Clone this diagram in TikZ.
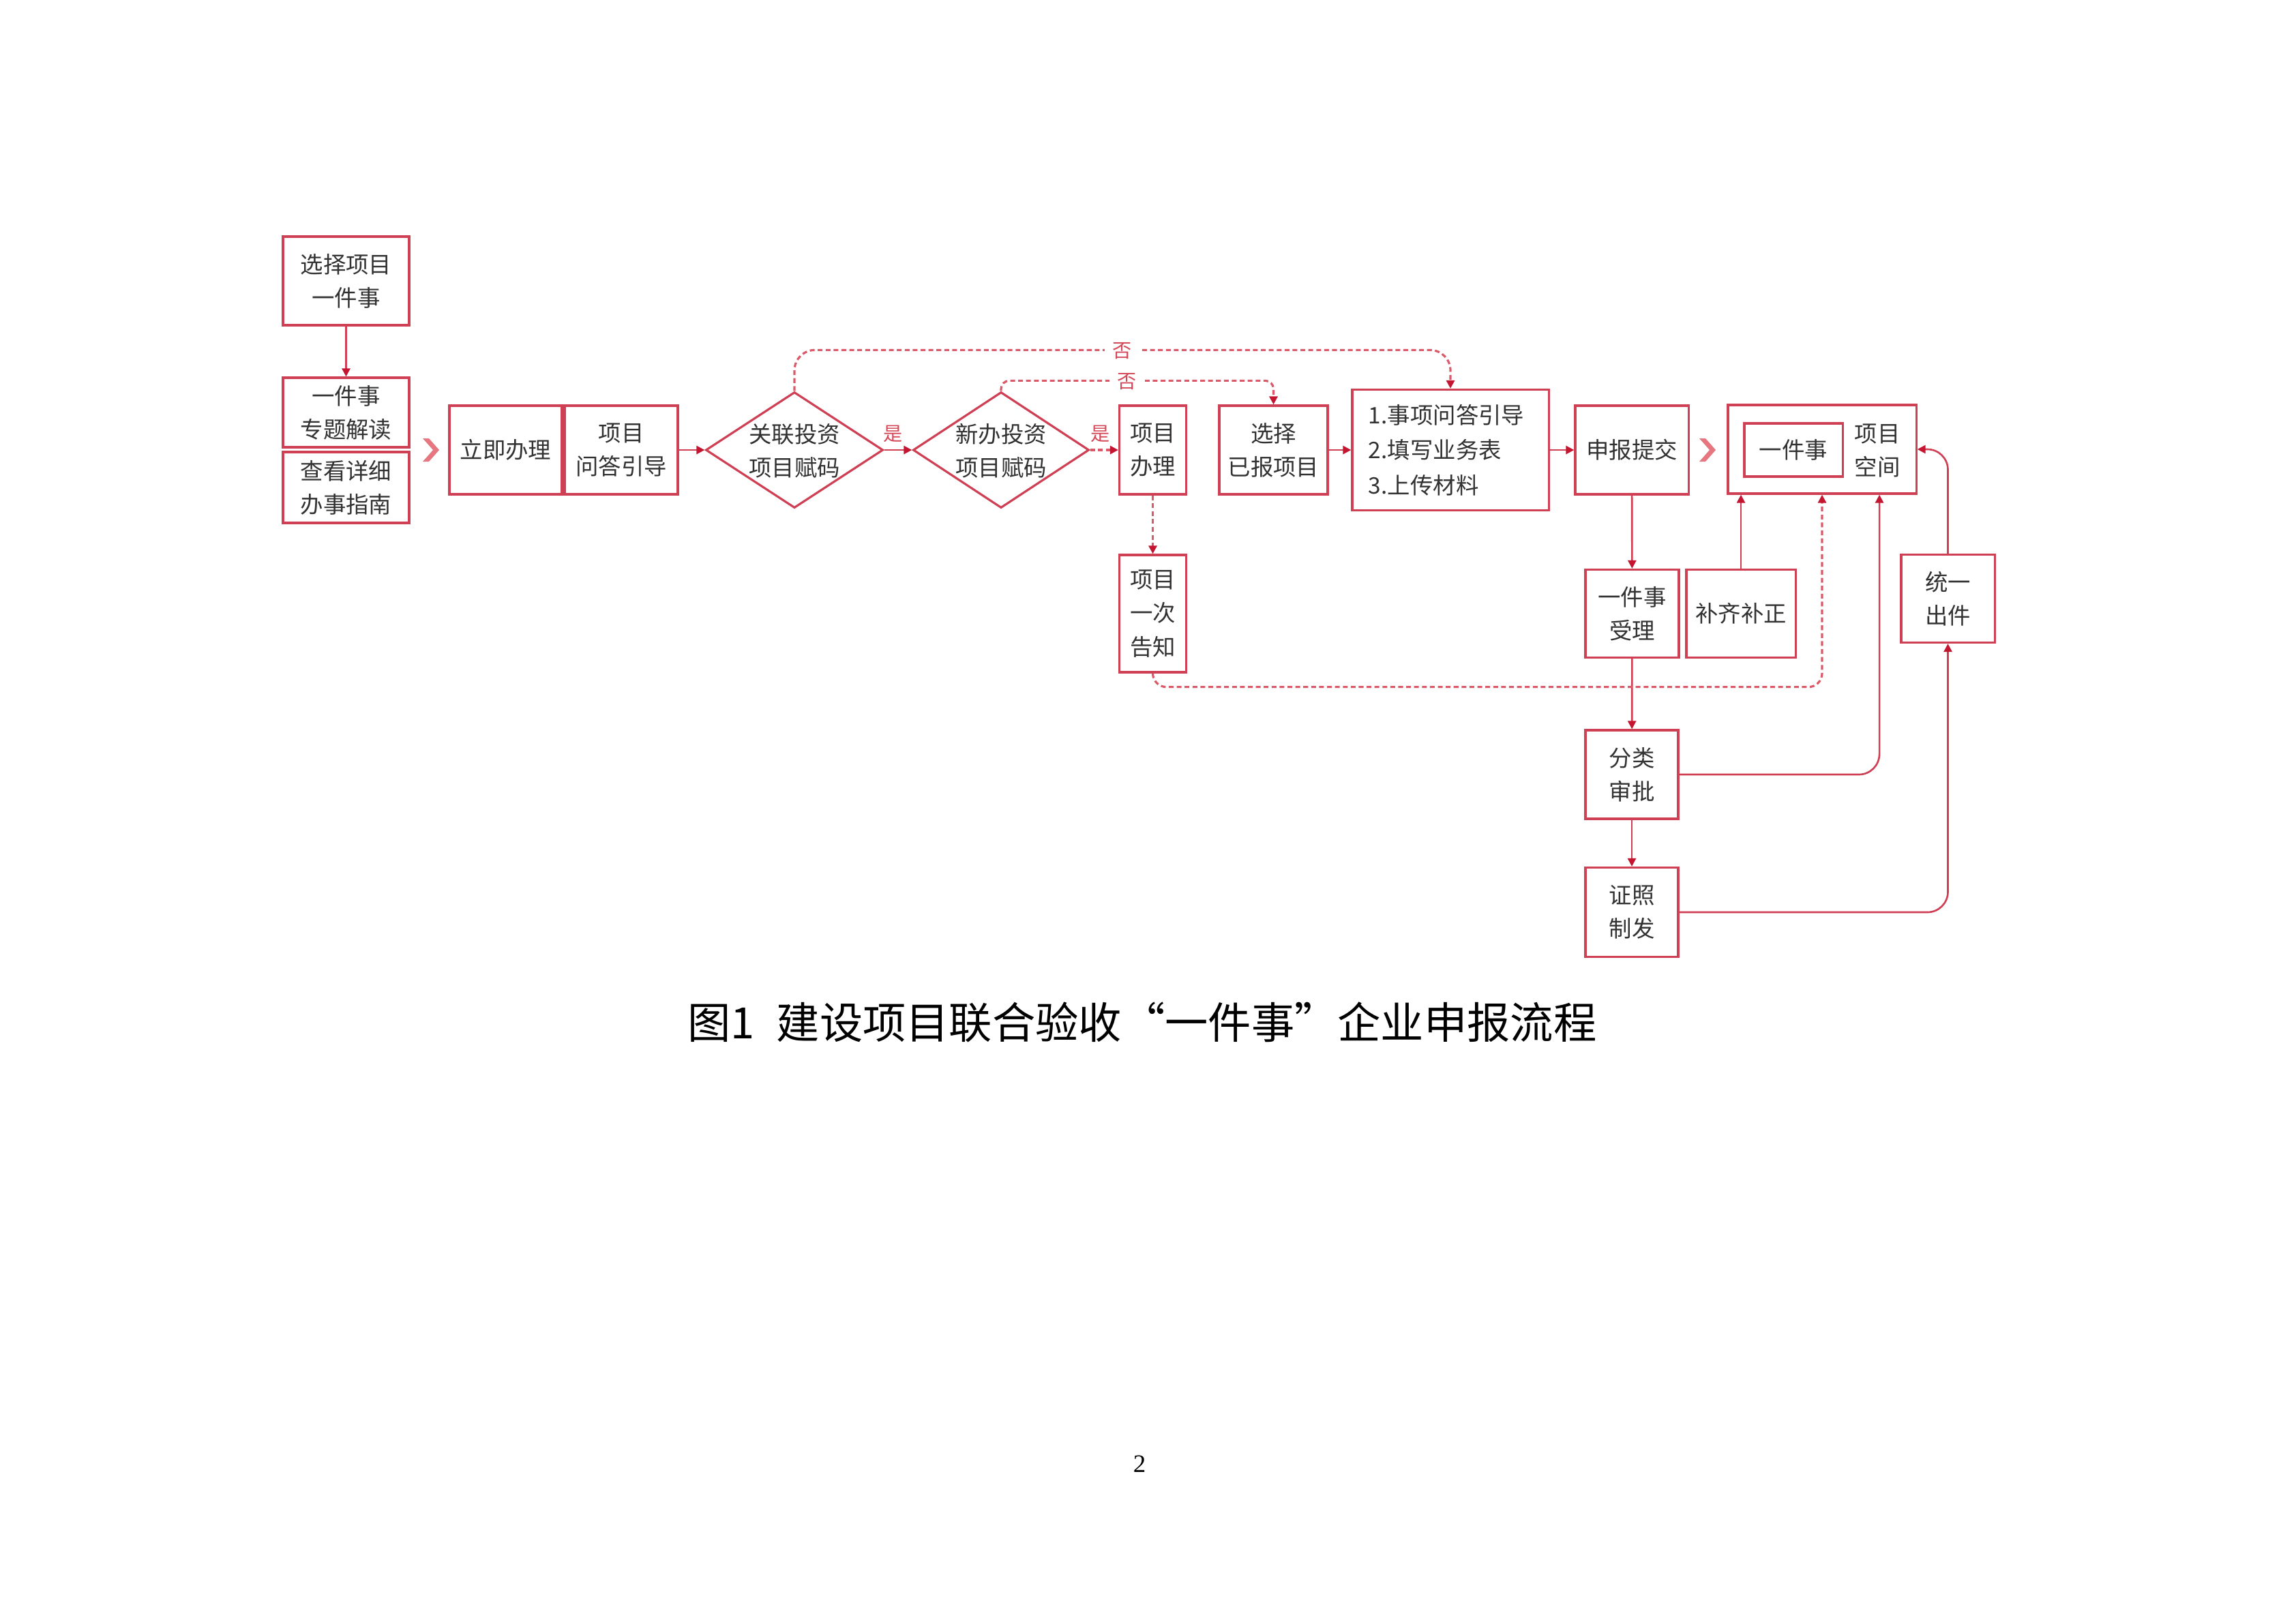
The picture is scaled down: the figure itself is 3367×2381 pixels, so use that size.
\documentclass[tikz,border=0pt]{standalone}
\usepackage{fontspec}
\setmainfont{Liberation Serif}
\newfontfamily\cjk{Noto Sans CJK SC}
\usetikzlibrary{shapes.geometric,arrows.meta}
\definecolor{boxred}{RGB}{208,64,84}
\definecolor{dashred}{RGB}{218,90,105}
\definecolor{tipred}{RGB}{196,22,48}
\definecolor{chevred}{RGB}{230,118,128}
\definecolor{txtgray}{RGB}{50,50,50}
\definecolor{labred}{RGB}{212,72,88}
\begin{document}
\begin{tikzpicture}[x=0.01cm,y=-0.01cm,
  box/.style={draw=boxred,line width=0.9pt,fill=white,inner sep=0pt,align=center,text=txtgray,font=\cjk\fontsize{9.5}{14}\selectfont},
  dia/.style={draw=boxred,line width=0.9pt,fill=white,shape=diamond,inner sep=0pt},
  txtonly/.style={inner sep=0pt,align=center,text=txtgray,font=\cjk\fontsize{9.5}{14}\selectfont},
  conn/.style={draw=boxred,line width=0.75pt,-{Triangle[length=3.4pt,width=3.4pt,color=tipred]}},
  dconn/.style={conn,draw=dashred,line width=0.9pt,dash pattern=on 2pt off 1.3pt},
  lab/.style={text=labred,font=\cjk\fontsize{8}{9}\selectfont,inner sep=0pt},
  gaplab/.style={lab,fill=white,inner xsep=0.12cm,inner ysep=0.03cm},
  chev/.style={fill=chevred}
]
\fill[white] (0,0) rectangle (3367,2381);
\useasboundingbox (0,0) rectangle (3367,2381);

% left column
\node[box,minimum width=1.85cm,minimum height=1.30cm] (b1) at (507.5,412) {选择项目\\一件事};
\node[box,minimum width=1.85cm,minimum height=1.02cm] (b2) at (507.5,605) {一件事\\专题解读};
\node[box,minimum width=1.85cm,minimum height=1.04cm] (b3) at (507.5,715) {查看详细\\办事指南};

% chevrons
\fill[chev] (620,643) -- (629,643) -- (644,660) -- (629,677) -- (620,677) -- (635,660) -- cycle;
\fill[chev] (2492,643) -- (2501,643) -- (2516,660) -- (2501,677) -- (2492,677) -- (2507,660) -- cycle;

% main row
\node[box,minimum width=1.65cm,minimum height=1.30cm] (lj) at (741.5,660) {立即办理};
\node[box,minimum width=1.66cm,minimum height=1.30cm] (wd) at (911,660) {项目\\问答引导};
\node[dia,minimum width=2.60cm,minimum height=1.70cm] (d1) at (1165,660) {};
\node[txtonly] (d1t) at (1165,661) {关联投资\\项目赋码};
\node[dia,minimum width=2.58cm,minimum height=1.70cm] (d2) at (1468,660) {};
\node[txtonly] (d2t) at (1468,661) {新办投资\\项目赋码};
\node[box,minimum width=0.98cm,minimum height=1.30cm] (xb) at (1690.5,660) {项目\\办理};
\node[box,minimum width=0.98cm,minimum height=1.72cm] (gz) at (1690.5,900) {项目\\一次\\告知};
\node[box,minimum width=1.59cm,minimum height=1.30cm] (xz) at (1867.5,660) {选择\\已报项目};
\node[box,minimum width=2.88cm,minimum height=1.77cm,text width=2.40cm,align=left,font=\cjk\fontsize{9.5}{14.6}\selectfont] (sx) at (2127,660) {1.事项问答引导\\2.填写业务表\\3.上传材料};
\node[box,minimum width=1.66cm,minimum height=1.30cm] (sb) at (2393,660) {申报提交};
\node[box,minimum width=2.76cm,minimum height=1.30cm] (kj) at (2672,659) {};
\node[box,minimum width=1.44cm,minimum height=0.78cm] (yj) at (2630,660) {一件事};
\node[txtonly] (kjt) at (2753,661) {项目\\空间};

% lower part
\node[box,minimum width=1.37cm,minimum height=1.29cm] (sl) at (2393.5,900) {一件事\\受理};
\node[box,minimum width=1.60cm,minimum height=1.29cm] (bq) at (2553,900) {补齐补正};
\node[box,minimum width=1.37cm,minimum height=1.29cm] (tc) at (2856.5,878) {统一\\出件};
\node[box,minimum width=1.36cm,minimum height=1.30cm] (fl) at (2393,1136) {分类\\审批};
\node[box,minimum width=1.36cm,minimum height=1.31cm] (zz) at (2393,1338) {证照\\制发};

% connectors
\draw[conn] (b1) -- (b2);
\draw[conn] (wd) -- (d1);
\draw[conn] (d1) -- (d2);
\draw[dconn] (d2) -- (xb);
\draw[dconn] (xb) -- (gz);
\draw[conn] (xz) -- (sx);
\draw[conn] (sx) -- (sb);
\draw[conn] (sb) -- (sl);
\draw[conn] (sl) -- (fl);
\draw[conn] (fl) -- (zz);
\draw[conn] (bq.north) -- (bq.north |- kj.south);
\draw[conn,rounded corners=0.3cm] (fl.east) -| ([xshift=0.84cm]kj.south);
\draw[conn,rounded corners=0.3cm] (zz.east) -| (tc.south);
\draw[conn,rounded corners=0.3cm] (tc.north) |- (kj.east);
\draw[dconn,rounded corners=0.2cm] (gz.south) -- ++(0,20) -| (kj.south);
\draw[dconn,rounded corners=0.3cm] (d1.north) -- ++(0,-60) -| (sx.north);
\draw[dconn,rounded corners=0.12cm] (d2.north) -- ++(0,-15) -| (xz.north);

% labels
\node[gaplab] (no1) at (1646,515) {否};
\node[gaplab] (no2) at (1653,560) {否};
\node[lab] (yes1) at (1310,636) {是};
\node[lab] (yes2) at (1614,636) {是};

% caption and page number
\node[inner sep=0pt,font=\cjk\fontsize{18}{20}\selectfont,text=black] (cap) at (1675,1499) {图1\hspace{0.5em}建设项目联合验收“一件事”企业申报流程};
\node[inner sep=0pt,font=\fontsize{10.5}{12}\selectfont] (pg) at (1671,2147) {2};
\end{tikzpicture}
\end{document}
